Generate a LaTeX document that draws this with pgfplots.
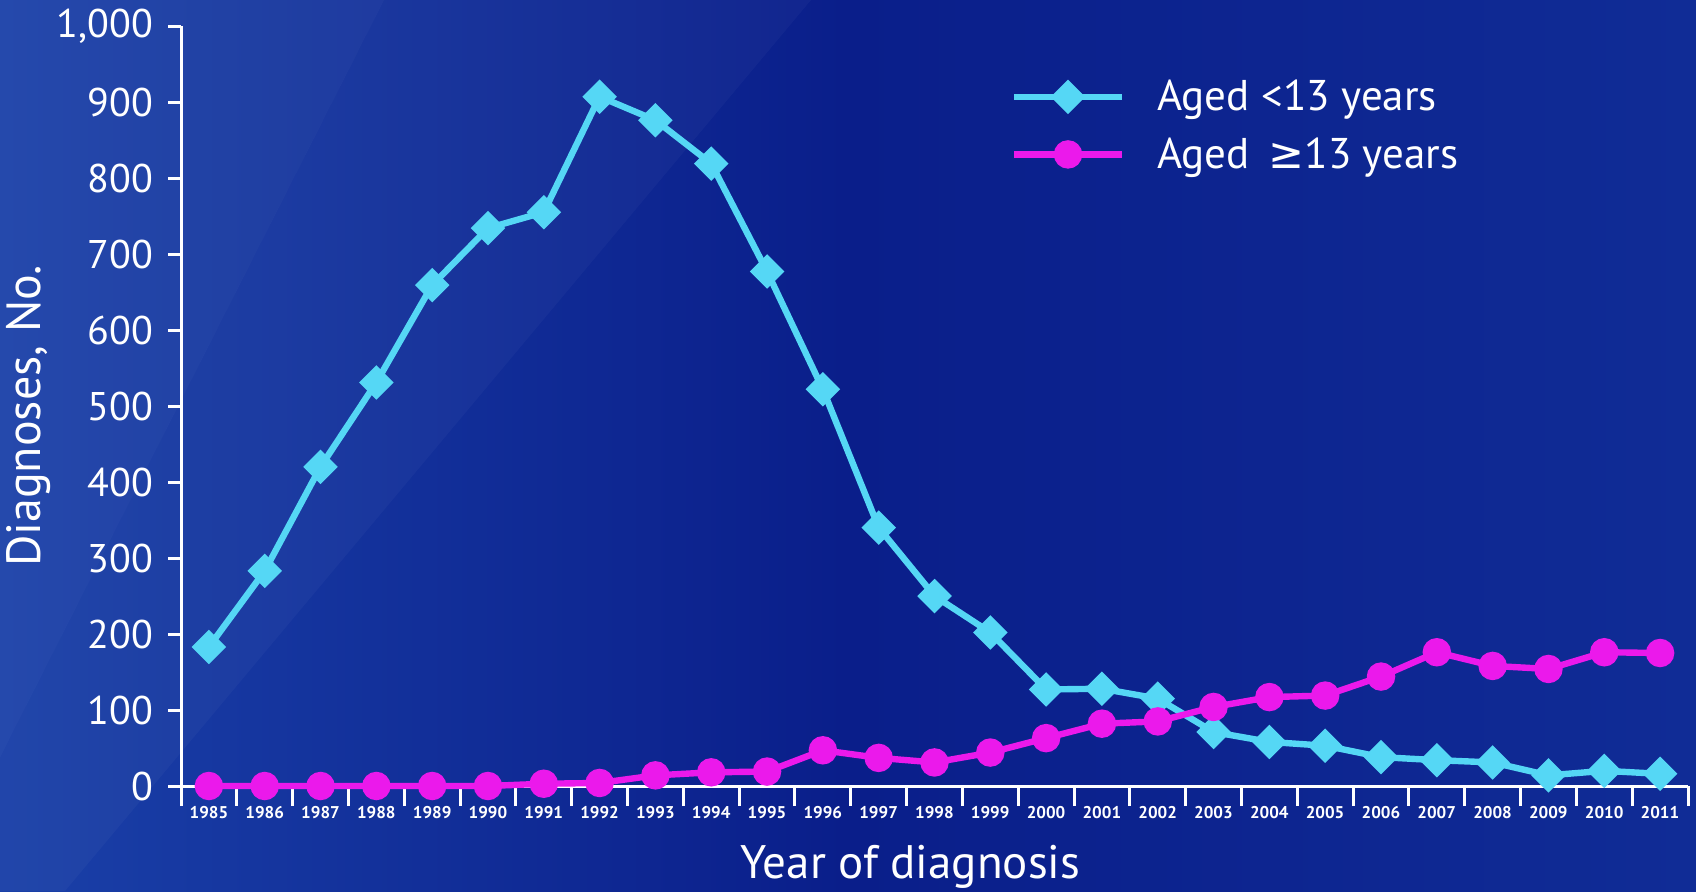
\documentclass[border=0pt]{standalone}
\usepackage{pgfplots}
\pgfplotsset{compat=1.18}
\usepackage{fontspec}
\setmainfont{PT Sans}
\newfontfamily\symfont{DejaVu Sans}
\usetikzlibrary{backgrounds}

\definecolor{bgdark}{RGB}{10,30,138}
\definecolor{bgleft}{RGB}{26,64,168}
\definecolor{bgright}{RGB}{16,44,150}
\definecolor{kidcyan}{RGB}{85,215,245}
\definecolor{teenmag}{RGB}{235,25,235}

\begin{document}
\begin{tikzpicture}
\begin{axis}[
    name=ax, at={(90.5pt,52.5pt)}, anchor=south west,
    scale only axis, width=753.5pt, height=380pt,
    xmin=1984.5, xmax=2011.5, ymin=0, ymax=1000,
    clip=false,
    axis lines=left,
    axis line style={white, line width=1.5pt, -},
    tick align=outside,
    tick style={white, line width=1.5pt},
    major tick length=6.5pt, minor tick length=10pt,
    xtick={1985,...,2011},
    major x tick style={draw=none},
    minor xtick={1984.5,1985.5,...,2011.5},
    ytick={0,100,...,1000},
    /pgf/number format/assume math mode=true,
    x tick label style={white, font=\bfseries\fontsize{8.5}{9}\selectfont,
        /pgf/number format/1000 sep={}},
    y tick label style={white, font=\fontsize{20}{22}\selectfont, xshift=-4pt,
        /pgf/number format/1000 sep={,}},
    xlabel={Year of diagnosis},
    ylabel={Diagnoses, No.},
    every axis x label/.style={at={(rel axis cs:0.484,0)}, yshift=-40.5pt,
        anchor=center, white, font=\fontsize{23.5}{26}\selectfont},
    every axis y label/.style={at={(rel axis cs:0,0.487)}, xshift=-76pt,
        rotate=90, anchor=center, white, font=\fontsize{24}{26}\selectfont},
    legend style={at={(rel axis cs:0.5464,0.94)}, anchor=north west,
        draw=none, fill=none, text=white, font=\fontsize{21.5}{25}\selectfont,
        row sep=8pt},
    legend cell align=left,
    legend image code/.code={%
        \draw[mark repeat=2,mark phase=2,#1]
        plot coordinates {(0pt,0pt) (27pt,0pt) (54pt,0pt)};
        \path (68pt,0pt);},
]
% Aged <13 years
\addplot[kidcyan, line width=3.2pt, mark=square*, mark size=4.5pt,
    mark options={rotate=45, solid}] coordinates {
(1985,183) (1986,283) (1987,420) (1988,531) (1989,659) (1990,734)
(1991,755) (1992,907) (1993,876) (1994,819) (1995,677) (1996,522)
(1997,340) (1998,250) (1999,202) (2000,127) (2001,128) (2002,115)
(2003,71) (2004,58) (2005,53) (2006,38) (2007,34) (2008,31)
(2009,14) (2010,20) (2011,16)
};
\addlegendentry{Aged <13 years}
% Aged >=13 years
\addplot[teenmag, line width=3.2pt, mark=*, mark size=5.5pt,
    mark options={solid}] coordinates {
(1985,0) (1986,0) (1987,0) (1988,0) (1989,0) (1990,0)
(1991,3) (1992,4) (1993,14) (1994,18) (1995,19) (1996,47)
(1997,37) (1998,31) (1999,44) (2000,63) (2001,82) (2002,85)
(2003,104) (2004,117) (2005,119) (2006,144) (2007,176) (2008,158)
(2009,154) (2010,176) (2011,175)
};
\addlegendentry{Aged \,{\symfont ≥}13 years}
\end{axis}

\begin{scope}[on background layer]
  \shade[left color=bgleft, right color=bgright, middle color=bgdark]
    (0,0) rectangle (848pt,445.5pt);
  \fill[white, opacity=0.05] (0,445.5pt) -- (192pt,445.5pt) -- (0,67pt) -- cycle;
  \fill[white, opacity=0.03] (192pt,445.5pt) -- (405.5pt,445.5pt)
    -- (32.5pt,0) -- (0,0) -- (0,67pt) -- cycle;
\end{scope}
\pgfresetboundingbox
\path[use as bounding box] (0,0) rectangle (848pt,445.5pt);
\end{tikzpicture}
\end{document}
